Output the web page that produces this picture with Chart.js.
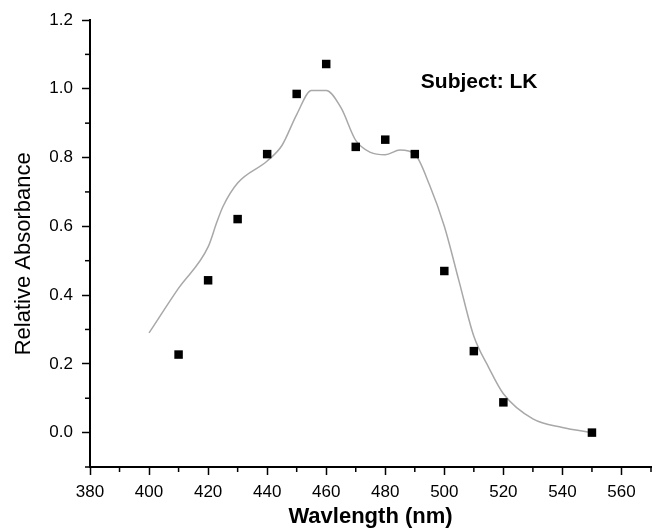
<!DOCTYPE html>
<html>
<head>
<meta charset="utf-8">
<script src="https://cdn.jsdelivr.net/npm/chart.js@4.4.1/dist/chart.umd.min.js"></script>
<style>
  html, body { margin: 0; padding: 0; background: #fff; }
  #wrap { width: 658px; height: 532px; }
</style>
</head>
<body>
<div id="wrap"><canvas id="myChart"></canvas></div>
<script>
// datos
const wavelengths = [410, 420, 430, 440, 450, 460, 470, 480, 490, 500, 510, 520, 550];
const absorbance = [0.227, 0.443, 0.621, 0.81, 0.985, 1.072, 0.831, 0.852, 0.81, 0.47, 0.237, 0.088, 0.0];

// curva gris (ajuste)
const curveX = [400, 410, 420, 423, 425, 430, 440, 445, 450, 455, 460, 465, 470, 475, 480, 485, 490, 495, 500, 505, 510, 515, 520, 530, 540, 550];
const curveY = [0.29, 0.42, 0.54, 0.613, 0.657, 0.726, 0.79, 0.835, 0.925, 0.995, 0.995, 0.945, 0.85, 0.815, 0.808, 0.822, 0.81, 0.72, 0.6, 0.44, 0.28, 0.19, 0.113, 0.04, 0.015, 0.0];

const xTickLabels = [380, 400, 420, 440, 460, 480, 500, 520, 540, 560];
const yTickLabels = ['0.0', '0.2', '0.4', '0.6', '0.8', '1.0', '1.2'];
const yTitulo = 'Relative Absorbance';

const fuente = '"Liberation Sans", Arial, sans-serif';

const esMayorX = v => xTickLabels.includes(Math.round(v));
const esMayorY = v => yTickLabels.includes((Math.round(v * 10) / 10).toFixed(1));

// ticks menores mas cortos
const ticksMenores = {
    id: 'ticksMenores',
    afterDraw(chart) {
        const { ctx, scales: { x, y } } = chart;
        ctx.save();
        ctx.strokeStyle = '#000';
        ctx.lineWidth = 1.5;
        x.ticks.forEach(t => {
            if (esMayorX(t.value)) return;
            const px = x.getPixelForValue(t.value);
            ctx.beginPath();
            ctx.moveTo(px, x.top);
            ctx.lineTo(px, x.top + 5);
            ctx.stroke();
        });
        y.ticks.forEach(t => {
            if (esMayorY(t.value)) return;
            const py = y.getPixelForValue(t.value);
            ctx.beginPath();
            ctx.moveTo(y.right, py);
            ctx.lineTo(y.right - 5, py);
            ctx.stroke();
        });
        ctx.restore();
    }
};

// textos: titulo del eje y (un poco bajo el centro) y etiqueta del sujeto
const textos = {
    id: 'textos',
    afterDraw(chart) {
        const { ctx: c, scales: { x, y } } = chart;
        c.save();
        c.fillStyle = '#000';
        c.textAlign = 'center';
        c.textBaseline = 'middle';
        c.font = 'bold 21px ' + fuente;
        c.fillText(chart.data.datasets[0].label, x.getPixelForValue(511.8), y.getPixelForValue(1.018));
        c.font = '22px ' + fuente;
        c.translate(24, y.getPixelForValue(0.52));
        c.rotate(-Math.PI / 2);
        c.fillText(yTitulo, 0, 0);
        c.restore();
    }
};

const ctx = document.getElementById('myChart');

new Chart(ctx, {
    type: 'scatter',
    data: {
        datasets: [{
            label: 'Subject: LK',
            data: wavelengths.map((w, i) => ({ x: w, y: absorbance[i] })),
            pointStyle: 'rect',
            pointRadius: 6,
            backgroundColor: '#000',
            borderColor: '#000',
            borderWidth: 0,
            order: 1
        }, {
            type: 'line',
            label: 'ajuste',
            data: curveX.map((w, i) => ({ x: w, y: curveY[i] })),
            borderColor: '#a8a8a8',
            borderWidth: 1.5,
            pointRadius: 0,
            cubicInterpolationMode: 'monotone',
            fill: false,
            order: 2
        }]
    },
    options: {
        responsive: true,
        maintainAspectRatio: false,
        animation: false,
        layout: { padding: { top: 20, right: 5, left: 0, bottom: 0 } },
        plugins: {
            legend: { display: false },
            tooltip: { enabled: false }
        },
        scales: {
            x: {
                type: 'linear',
                min: 380,
                max: 570,
                afterFit: s => { s.height = 65; },
                ticks: {
                    stepSize: 10,
                    autoSkip: false,
                    maxRotation: 0,
                    padding: 7,
                    color: '#000',
                    font: { family: fuente, size: 17 },
                    callback: v => esMayorX(v) ? String(Math.round(v)) : ''
                },
                grid: {
                    drawOnChartArea: false,
                    tickLength: 8,
                    tickWidth: 1.5,
                    tickColor: c => (c.tick && esMayorX(c.tick.value)) ? '#000' : 'rgba(0,0,0,0)'
                },
                border: { color: '#000', width: 2 },
                title: {
                    display: true,
                    text: 'Wavlength (nm)',
                    color: '#000',
                    font: { family: fuente, size: 22, weight: 'bold' },
                    padding: { top: 0, bottom: 2 }
                }
            },
            y: {
                min: -0.1,
                max: 1.2,
                afterFit: s => { s.width = 90; },
                ticks: {
                    stepSize: 0.1,
                    autoSkip: false,
                    padding: 9,
                    color: '#000',
                    font: { family: fuente, size: 17 },
                    callback: v => esMayorY(v) ? (Math.round(v * 10) / 10).toFixed(1) : ''
                },
                grid: {
                    drawOnChartArea: false,
                    tickLength: 8,
                    tickWidth: 1.5,
                    tickColor: c => (c.tick && esMayorY(c.tick.value)) ? '#000' : 'rgba(0,0,0,0)'
                },
                border: { color: '#000', width: 2 },
                title: { display: false }
            }
        }
    },
    plugins: [ticksMenores, textos]
});
</script>
</body>
</html>
